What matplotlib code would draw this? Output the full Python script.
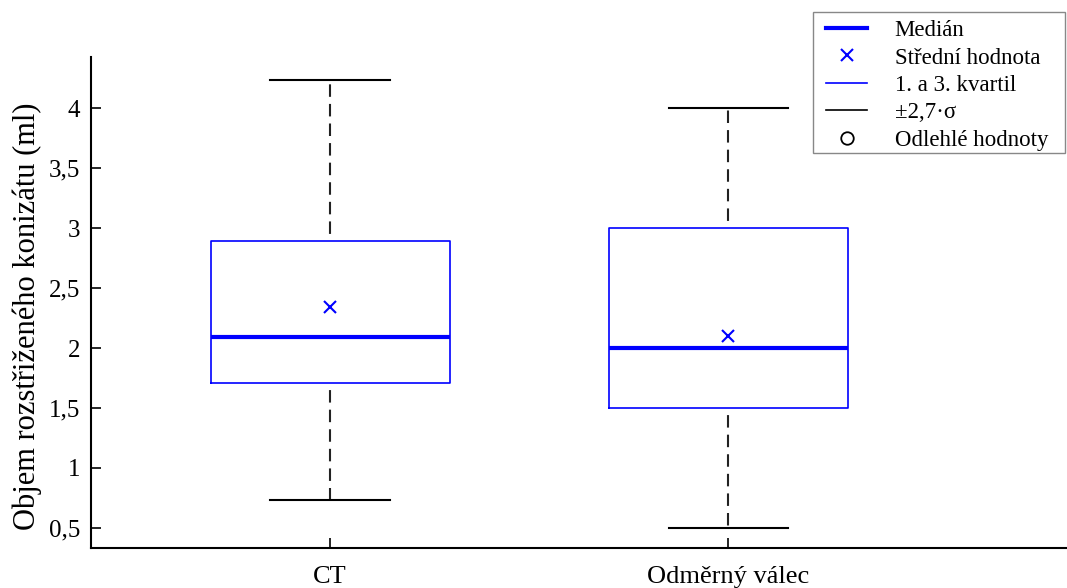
import matplotlib

matplotlib.use("Agg")
import matplotlib.pyplot as plt
from matplotlib.lines import Line2D
from matplotlib.patches import Rectangle
from matplotlib.ticker import FuncFormatter

plt.rcParams["font.family"] = ["Liberation Serif", "DejaVu Serif"]

categories = ["CT", "Odměrný válec"]
whisker_lo = [0.73, 0.5]
q1 = [1.71, 1.5]
median = [2.09, 2.0]
q3 = [2.89, 3.0]
whisker_hi = [4.23, 4.0]
mean = [2.34, 2.1]

yticks = [0.5, 1, 1.5, 2, 2.5, 3, 3.5, 4]
ylabel = "Objem rozstřiženého konizátu (ml)"
legend_labels = ["Medián", "Střední hodnota", "1. a 3. kvartil", "±2,7·σ", "Odlehlé hodnoty"]

blue = "#0000ff"
W, H = 1067, 588

stats = []
for i, name in enumerate(categories):
    stats.append({
        "label": name,
        "whislo": whisker_lo[i],
        "q1": q1[i],
        "med": median[i],
        "q3": q3[i],
        "whishi": whisker_hi[i],
        "mean": mean[i],
        "fliers": [],
    })

fig = plt.figure(figsize=(W / 100, H / 100), dpi=100)
ax = fig.add_axes([0.0853, 0.068, 0.9147, 0.835])

ax.bxp(
    stats,
    positions=[1, 2],
    widths=0.6,
    showmeans=True,
    showfliers=False,
    boxprops=dict(color=blue, linewidth=1.2),
    medianprops=dict(color=blue, linewidth=3),
    meanprops=dict(marker="x", markeredgecolor=blue, markersize=8, markeredgewidth=1.5),
    whiskerprops=dict(color="#222222", linewidth=1.5, linestyle=(6, (6, 3.4))),
    capprops=dict(color="black", linewidth=1.5),
    capwidths=0.3,
)

ax.set_xlim(0.4, 2.85)
ax.set_ylim(0.333, 4.425)
ax.set_yticks(yticks)
ax.yaxis.set_major_formatter(FuncFormatter(lambda v, _: f"{v:g}".replace(".", ",")))
ax.set_xticks([1, 2])
ax.set_xticklabels(categories)
ax.tick_params(direction="in", length=7, width=1.2, colors="black")
ax.tick_params(axis="y", labelsize=18, pad=8)
ax.tick_params(axis="x", labelsize=19, pad=13)
ax.set_ylabel(ylabel, fontsize=22)
ax.yaxis.set_label_coords(-0.050, 0.4725)

for side in ("top", "right"):
    ax.spines[side].set_visible(False)
for side in ("left", "bottom"):
    ax.spines[side].set_linewidth(1.5)

handles = [
    Line2D([], [], color=blue, linewidth=3),
    Line2D([], [], color=blue, marker="x", linestyle="none", markersize=8, markeredgewidth=1.5),
    Line2D([], [], color=blue, linewidth=1.2),
    Line2D([], [], color="black", linewidth=1.2),
    Line2D([], [], color="black", marker="o", markerfacecolor="none", linestyle="none",
           markersize=9, markeredgewidth=1.3),
]
# frame drawn by hand, legend box is wider than its contents
fig.patches.append(Rectangle(
    (813 / W, 1 - 153 / H), (1065 - 813) / W, (153 - 12) / H,
    transform=fig.transFigure, facecolor="white", edgecolor="#888888",
    linewidth=1.0, zorder=0,
))
fig.legend(
    handles,
    legend_labels,
    loc="upper left",
    bbox_to_anchor=(826 / W, 1 - 20 / H),
    borderaxespad=0,
    borderpad=0,
    frameon=False,
    fontsize=16.5,
    handlelength=1.8,
    handletextpad=1.2,
    labelspacing=0.28,
)

fig.savefig("out.png", dpi=100)
plt.close()
